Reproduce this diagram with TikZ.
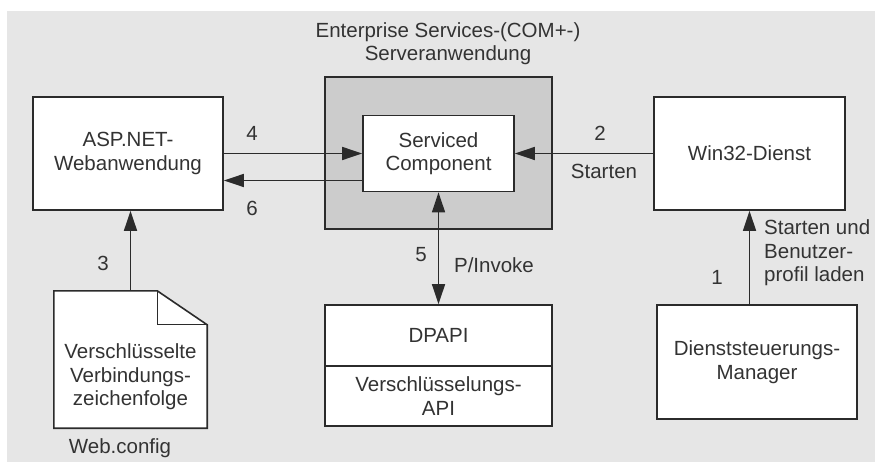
\documentclass[tikz,border=0pt]{standalone}
\usepackage{fontspec}
\setmainfont{Liberation Sans}
\usetikzlibrary{arrows.meta}
\definecolor{bgc}{HTML}{E6E6E6}
\definecolor{comc}{HTML}{CCCCCC}
\definecolor{linec}{HTML}{2B2B2B}
\definecolor{txtc}{HTML}{333333}
\begin{document}
\begin{tikzpicture}[x=1pt,y=-1pt,
  font=\fontsize{20.5}{23.5}\selectfont, text=txtc,
  box/.style={draw=linec, line width=1.6pt, fill=white, align=center, inner sep=0pt},
  arr/.style={draw=linec, line width=1.4pt, -{Triangle[length=20pt,width=13pt]}},
  darr/.style={draw=linec, line width=1.4pt, {Triangle[length=20pt,width=13pt]}-{Triangle[length=20pt,width=13pt]}},
  lbl/.style={inner sep=0pt, align=center}]
\useasboundingbox (0,0) rectangle (875,462);
\fill[bgc] (7,11) rectangle (875,462);

% containers and boxes
\node[box, fill=comc, minimum width=227pt, minimum height=152pt] (com) at (438.5,153) {};
\node[lbl, align=center] (title) at (448,43.5) {Enterprise Services-(COM+-)\\Serveranwendung};
\node[box, minimum width=151pt, minimum height=76pt] (svc) at (438.5,153.5) {Serviced\\Component};
\node[box, minimum width=190pt, minimum height=113pt] (asp) at (128,153.5) {ASP.NET-\\Webanwendung};
\node[box, minimum width=191pt, minimum height=113pt] (win) at (749.5,153.5) {Win32-Dienst};
\node[box, minimum width=227pt, minimum height=61pt] (dtop) at (438.5,335.5) {DPAPI};
\node[box, minimum width=227pt, minimum height=60pt] (dbot) at (438.5,396) {Verschlüsselungs-\\API};
\node[box, minimum width=200pt, minimum height=114pt] (mgr) at (757,362) {Dienststeuerungs-\\Manager};

% document shape
\node[minimum width=153pt, minimum height=137pt, inner sep=0pt] (doc) at (130.5,359.5) {};
\draw[linec, line width=1.6pt, fill=white, line join=miter]
  (doc.north west) -- ([xshift=-50pt]doc.north east) -- ([yshift=-34pt]doc.north east)
  -- (doc.south east) -- (doc.south west) -- cycle;
\draw[linec, line width=1.2pt]
  ([xshift=-50pt]doc.north east) -- ([xshift=-50pt,yshift=-34pt]doc.north east) -- ([yshift=-34pt]doc.north east);
\node[lbl] (doctext) at (130.5,377) {Verschlüsselte\\Verbindungs-\\zeichenfolge};
\node[lbl] (webcfg) at (120,448) {Web.config};

% connectors
\draw[arr] (asp.east) -- (svc.west);
\draw[arr] ([yshift=-27pt]svc.west) -- ([yshift=-27pt]svc.west -| asp.east);
\draw[arr] (win.west) -- (win.west -| svc.east);
\draw[darr] (svc.south) -- (dtop.north);
\draw[arr] (doc.north) -- (doc.north |- asp.south);
\draw[arr] (win.south |- mgr.north) -- (win.south);

% labels
\node[lbl] (l4) at (252,133) {4};
\node[lbl] (l6) at (252,208) {6};
\node[lbl] (l2) at (600,133) {2};
\node[lbl] (lst) at (604,171) {Starten};
\node[lbl] (l5) at (421,255) {5};
\node[lbl] (lpi) at (494,265) {P/Invoke};
\node[lbl] (l3) at (103,263) {3};
\node[lbl] (l1) at (717,277) {1};
\node[lbl, anchor=west, align=left] (lsu) at (764,253) {Starten und\\Benutzer-\\profil laden};
\end{tikzpicture}
\end{document}
